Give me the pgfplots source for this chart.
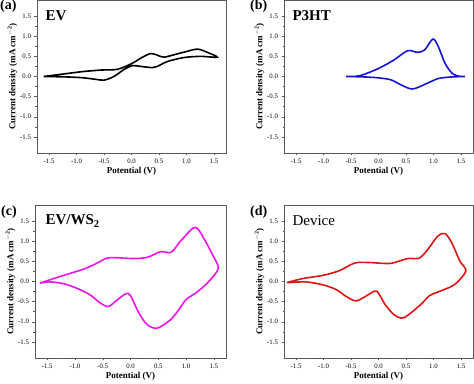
\documentclass[border=0pt]{standalone}
\usepackage{fontspec}
\setmainfont{Liberation Serif}
\usepackage{pgfplots}
\pgfplotsset{compat=1.18}
\definecolor{cvblue}{RGB}{20,20,210}
\definecolor{cvmag}{RGB}{235,20,235}
\definecolor{cvred}{RGB}{225,20,20}
\pgfplotsset{
  cvax/.style={
    scale only axis, width=189pt, height=153pt,
    xmin=-1.72, xmax=1.72, ymin=-1.9, ymax=1.9,
    xtick={-1.5,-1,...,1.5}, ytick={-1.5,-1,...,1.5},
    minor tick num=1,
    tick align=outside, tick pos=left,
    major tick length=2.5pt, minor tick length=1.5pt,
    axis line style={black!65}, every tick/.style={black!65},
    /pgf/number format/assume math mode=true,
    /pgf/number format/fixed, /pgf/number format/fixed zerofill,
    /pgf/number format/precision=1,
    tick label style={font=\fontsize{6.8}{7}\selectfont},
    xlabel={\textbf{Potential (V)}},
    ylabel={\textbf{Current density (mA cm$^{\mathbf{-2}}$)}},
    label style={font=\fontsize{9}{10}\selectfont},
    xlabel style={yshift=3pt},
    ylabel style={yshift=-4pt},
    anchor=south west,
  },
}
\begin{document}
\begin{tikzpicture}
\useasboundingbox (0pt,0pt) rectangle (474pt,383pt);
% (a)
\begin{axis}[cvax, at={(37pt,230pt)}]
\addplot[black, line width=1.6pt, smooth] coordinates {
(-1.60,0.00) (-1.25,0.06) (-0.90,0.12) (-0.56,0.16) (-0.25,0.18) (0.015,0.33) (0.20,0.48) (0.35,0.57) (0.47,0.53) (0.59,0.48) (0.80,0.55) (1.0,0.62) (1.2,0.68) (1.38,0.60) (1.56,0.48)
(1.26,0.50) (0.95,0.47) (0.65,0.37) (0.47,0.25) (0.38,0.22) (0.17,0.25) (0.02,0.27) (-0.14,0.17) (-0.32,0.00) (-0.50,-0.09) (-0.65,-0.07) (-0.90,-0.03) (-1.2,-0.01) (-1.60,0.00)};
\end{axis}
% (b)
\begin{axis}[cvax, at={(284pt,230pt)}]
\addplot[cvblue, line width=1.6pt, smooth] coordinates {
(-0.59,0.00) (-0.34,0.02) (0.0,0.20) (0.28,0.41) (0.53,0.64) (0.71,0.60) (0.84,0.66) (0.99,0.93) (1.09,0.74) (1.21,0.33) (1.34,0.08) (1.46,0.01) (1.57,0.00)
(1.34,-0.01) (1.09,-0.05) (0.90,-0.16) (0.62,-0.31) (0.40,-0.20) (0.22,-0.08) (-0.03,-0.03) (-0.28,-0.01) (-0.59,0.00)};
\end{axis}
% (c)
\begin{axis}[cvax, at={(35pt,25pt)}, width=191pt]
\addplot[cvmag, line width=1.6pt, smooth] coordinates {
(-1.63,-0.04) (-1.28,0.12) (-0.86,0.30) (-0.61,0.45) (-0.43,0.58) (-0.25,0.59) (0.05,0.57) (0.30,0.60) (0.54,0.74) (0.66,0.72) (0.75,0.74) (0.90,1.00) (1.12,1.32) (1.21,1.31) (1.33,1.05) (1.49,0.63) (1.58,0.32)
(1.39,-0.03) (1.18,-0.28) (1.00,-0.45) (0.87,-0.70) (0.72,-0.95) (0.48,-1.16) (0.30,-1.07) (0.15,-0.78) (0.0,-0.35) (-0.08,-0.30) (-0.25,-0.47) (-0.40,-0.62) (-0.55,-0.53) (-0.73,-0.33) (-0.98,-0.16) (-1.22,-0.05) (-1.46,-0.01) (-1.63,-0.04)};
\end{axis}
% (d)
\begin{axis}[cvax, at={(284pt,25pt)}]
\addplot[cvred, line width=1.6pt, smooth] coordinates {
(-1.67,-0.03) (-1.39,0.07) (-1.02,0.15) (-0.71,0.27) (-0.43,0.46) (-0.15,0.47) (0.22,0.45) (0.53,0.57) (0.74,0.58) (0.90,0.80) (1.08,1.13) (1.21,1.19) (1.33,0.97) (1.48,0.51) (1.59,0.26)
(1.39,-0.07) (1.14,-0.23) (0.93,-0.35) (0.77,-0.57) (0.46,-0.90) (0.28,-0.82) (0.12,-0.57) (-0.03,-0.24) (-0.15,-0.30) (-0.40,-0.48) (-0.59,-0.37) (-0.77,-0.20) (-1.02,-0.08) (-1.33,-0.01) (-1.67,-0.03)};
\end{axis}
% titles
\node[anchor=west, font=\fontsize{15}{16}\selectfont\bfseries] at (42pt,367pt) {EV};
\node[anchor=west, font=\fontsize{15}{16}\selectfont\bfseries] at (289pt,367pt) {P3HT};
\node[anchor=west, font=\fontsize{15}{16}\selectfont\bfseries] at (42pt,162pt) {EV/WS$_{\mathbf{2}}$};
\node[anchor=west, font=\fontsize{15}{16}\selectfont] at (289pt,162pt) {Device};
% panel labels
\node[anchor=north west, inner sep=0pt, font=\fontsize{14}{15}\selectfont\bfseries] at (0pt,383pt) {(a)};
\node[anchor=north west, inner sep=0pt, font=\fontsize{14}{15}\selectfont\bfseries] at (250pt,383pt) {(b)};
\node[anchor=north west, inner sep=0pt, font=\fontsize{14}{15}\selectfont\bfseries] at (1pt,177pt) {(c)};
\node[anchor=north west, inner sep=0pt, font=\fontsize{14}{15}\selectfont\bfseries] at (250pt,177pt) {(d)};
\end{tikzpicture}
\end{document}
